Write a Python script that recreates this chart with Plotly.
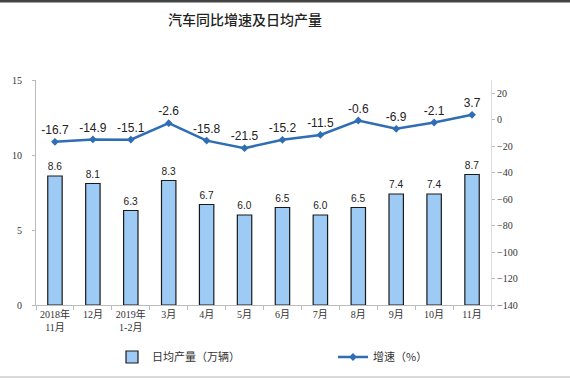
import plotly.graph_objects as go

categories = ["2018年<br>11月", "12月", "2019年<br>1-2月", "3月", "4月", "5月",
              "6月", "7月", "8月", "9月", "10月", "11月"]
daily_output = [8.6, 8.1, 6.3, 8.3, 6.7, 6.0, 6.5, 6.0, 6.5, 7.4, 7.4, 8.7]
growth = [-16.7, -14.9, -15.1, -2.6, -15.8, -21.5, -15.2, -11.5, -0.6, -6.9, -2.1, 3.7]
left_ticks = [0, 5, 10, 15]
right_ticks = [20, 0, -20, -40, -60, -80, -100, -120, -140]

cjk = "Noto Sans CJK SC"
serif = "Liberation Serif, Noto Sans CJK SC"

W, H = 570, 380
L, R, T, B = 36, 79, 80, 75
PW, PH = W - L - R, H - T - B

fig = go.Figure()
fig.add_trace(go.Bar(
    x=categories, y=daily_output, name="日均产量（万辆）", legend="legend",
    marker=dict(color="#9DCBF5", line=dict(color="#1a1a1a", width=1.2)),
    width=0.38,
    text=[f"{v:.1f}" for v in daily_output], textposition="outside",
    textfont=dict(family="Liberation Sans, Arial", size=12, color="#222"),
    cliponaxis=False,
))
fig.add_trace(go.Scatter(
    x=categories, y=growth, name="增速（%）", yaxis="y2", legend="legend2",
    mode="lines+markers+text",
    line=dict(color="#2F6DB5", width=2.5),
    marker=dict(symbol="diamond", size=6, color="#2F6DB5"),
    text=[f"{v:.1f}" for v in growth], textposition="top center",
    textfont=dict(family="Liberation Sans, Arial", size=12, color="#222"),
    cliponaxis=False,
))

legend_common = dict(orientation="h", xanchor="left", yanchor="middle",
                     xref="paper", yref="paper",
                     font=dict(family=cjk, size=11, color="#333"),
                     bgcolor="rgba(0,0,0,0)", itemwidth=30)

fig.update_layout(
    width=W, height=H,
    margin=dict(l=L, r=R, t=T, b=B, autoexpand=False),
    paper_bgcolor="white", plot_bgcolor="white",
    title=dict(text="汽车同比增速及日均产量", x=245/W, xanchor="center",
               xref="container", y=1-20/H, yanchor="middle", yref="container",
               font=dict(family=cjk, size=14, color="#222", weight=500)),
    showlegend=True,
    legend=dict(legend_common, x=(112 - L)/PW, y=-(357 - T - PH)/PH),
    legend2=dict(legend_common, x=(333 - L)/PW, y=-(357 - T - PH)/PH),
    bargap=0.6,
    xaxis=dict(
        type="category", showline=True, linecolor="#bbbbbb", linewidth=1,
        ticks="outside", tickcolor="#bbbbbb", ticklen=4, tickson="boundaries",
        tickangle=0, automargin=False,
        tickfont=dict(family=serif, size=10, color="#333"),
        showgrid=False, range=[-0.5, 11.5],
    ),
    yaxis=dict(
        range=[0, 15], tickvals=left_ticks, showline=True, linecolor="#bbbbbb",
        ticks="outside", tickcolor="#bbbbbb", ticklen=3, showgrid=False,
        zeroline=False, automargin=False, ticklabelstandoff=8,
        tickfont=dict(family=serif, size=10, color="#333"),
    ),
    yaxis2=dict(
        overlaying="y", side="right", range=[-140, 30], tickvals=right_ticks,
        showline=True, linecolor="#dddddd", ticks="outside", tickcolor="#bbbbbb",
        ticklen=3, showgrid=False, zeroline=False, automargin=False,
        tickfont=dict(family=serif, size=10, color="#333"),
    ),
    shapes=[
        dict(type="line", xref="paper", yref="paper", x0=-L/PW, x1=1+R/PW,
             y0=1+(T-1)/PH, y1=1+(T-1)/PH, line=dict(color="#444", width=3)),
        dict(type="line", xref="paper", yref="paper", x0=-L/PW, x1=1+R/PW,
             y0=-(B-3)/PH, y1=-(B-3)/PH, line=dict(color="#cccccc", width=1.5)),
    ],
)

fig.write_html("out.html",
               config={"displayModeBar": False},
               post_script="document.body.style.margin='0';document.body.style.overflow='hidden';")
